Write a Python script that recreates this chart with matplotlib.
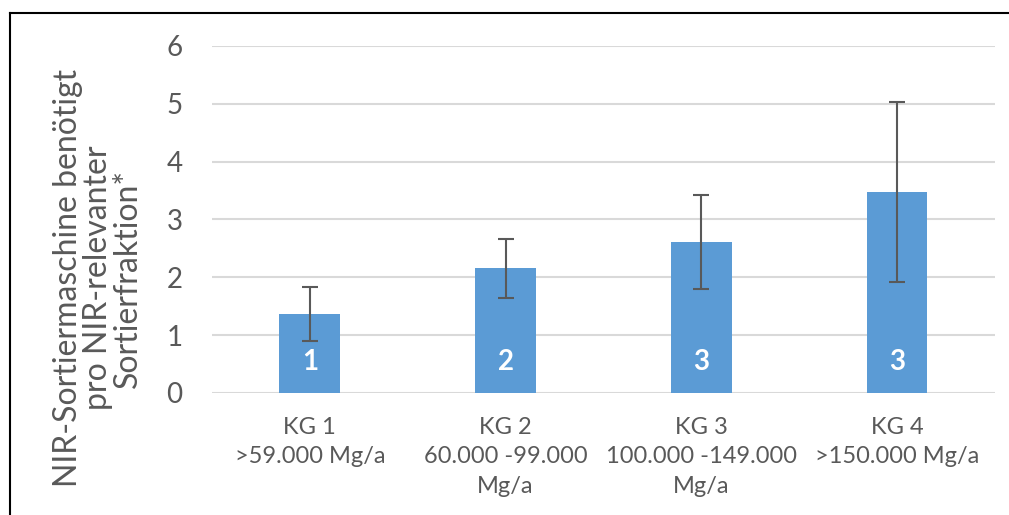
import matplotlib.pyplot as plt
from matplotlib.lines import Line2D

plt.rcParams['font.family'] = ['Lato', 'DejaVu Sans']

categories = ['KG 1\n>59.000 Mg/a', 'KG 2\n60.000 -99.000\nMg/a',
              'KG 3\n100.000 -149.000\nMg/a', 'KG 4\n>150.000 Mg/a']
values = [1.37, 2.16, 2.61, 3.48]
err_low = [0.90, 1.64, 1.80, 1.92]
err_high = [1.83, 2.66, 3.43, 5.03]
bar_labels = ['1', '2', '3', '3']

grey = '#595959'

fig = plt.figure(figsize=(10.09, 5.15), dpi=100)
ax = fig.add_axes([0.210, 0.237, 0.776, 0.674])

x = range(len(categories))
yerr = [[v - lo for v, lo in zip(values, err_low)],
        [hi - v for v, hi in zip(values, err_high)]]
ax.bar(x, values, width=0.31, color='#5B9BD5', zorder=2)
ax.errorbar(x, values, yerr=yerr, fmt='none', ecolor=grey, elinewidth=1.5,
            capsize=6, capthick=1.5, zorder=3)

for i, lab in enumerate(bar_labels):
    ax.annotate(lab, (i, 0), xytext=(0, 31), textcoords='offset pixels',
                ha='center', va='center', color='white', fontweight='bold',
                fontsize=20)

ax.set_xlim(-0.5, 3.5)
ax.set_ylim(0, 6)
ax.set_yticks(range(0, 7))
ax.set_xticks(list(x))
ax.set_xticklabels(categories, linespacing=1.5)
ax.yaxis.grid(True, color='#d9d9d9', linewidth=1.5, zorder=0)
ax.set_axisbelow(True)
for s in ax.spines.values():
    s.set_visible(False)
ax.tick_params(axis='both', length=0, colors=grey)
ax.tick_params(axis='y', labelsize=20, pad=21)
ax.tick_params(axis='x', labelsize=17, pad=17)
for t in ax.get_xticklabels():
    t.set_verticalalignment('top')

fig.text(98 / 1009, 1 - 278 / 515,
         'NIR-Sortiermaschine benötigt\npro NIR-relevanter\nSortierfraktion*',
         rotation=90, ha='center', va='center', fontsize=23, color=grey,
         linespacing=1.0)

# frame lines of the original chart box
fig.add_artist(Line2D([10 / 1009, 10 / 1009], [0, 1 - 13 / 515], color='black', linewidth=1.5))
fig.add_artist(Line2D([10 / 1009, 1], [1 - 13 / 515, 1 - 13 / 515], color='black', linewidth=1.5))

fig.savefig('out.png', dpi=100)
